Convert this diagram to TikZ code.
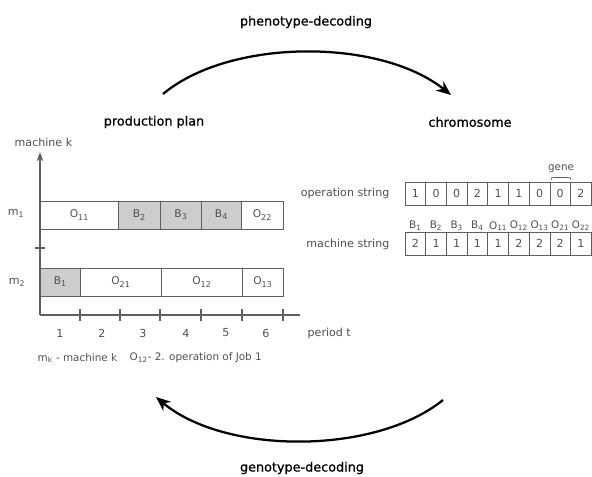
\documentclass[tikz,border=0pt]{standalone}
\usepackage{fontspec}
\setmainfont{DejaVu Sans}
\newfontfamily\headfont{DejaVu Sans}[FakeBold=0.8]
\usetikzlibrary{arrows.meta}
\definecolor{txtgray}{RGB}{80,80,80}
\definecolor{boxgray}{RGB}{205,205,205}
\definecolor{linegray}{RGB}{95,95,95}
\tikzset{
  heading/.style={font=\headfont\fontsize{9.6}{11}\selectfont, text=black},
  lbl/.style={font=\fontsize{8.3}{10}\selectfont, text=txtgray},
  small/.style={font=\fontsize{7.8}{9}\selectfont, text=txtgray},
  job/.style={draw=linegray, line width=0.7pt, minimum height=28*0.75pt, inner sep=0pt, anchor=west, font=\fontsize{8}{9}\selectfont, text=txtgray},
  bit/.style={draw=linegray, line width=0.6pt, minimum width=20.7*0.75pt, minimum height=23*0.75pt, inner sep=0pt, font=\fontsize{8.3}{10}\selectfont, text=txtgray},
  axis/.style={draw=linegray, line width=0.9pt},
  decode/.style={line width=1.7pt, -{Stealth[length=11pt,width=9pt]}},
}
\begin{document}
\begin{tikzpicture}[x=0.75pt,y=0.75pt,yscale=-1,xscale=1]
\useasboundingbox (0,0) rectangle (592,477);

%Titles
\node[heading] (pheno) at (306,22) {phenotype-decoding};
\node[heading] (geno) at (302,468) {genotype-decoding};
\node[heading] (plan) at (154,122) {production plan};
\node[heading] (chrom) at (470,122) {chromosome};

%Curve Lines
\coordinate (ps) at (163,94);
\coordinate (pe) at (451,95);
\draw[decode] (ps) .. controls (230,38) and (380,38) .. (pe);
\coordinate (gs) at (443,400);
\coordinate (ge) at (156,397);
\draw[decode] (gs) .. controls (375,455) and (225,455) .. (ge);

%Axes
\coordinate (orig) at (40,315);
\coordinate (ytop) at (40,152);
\coordinate (xend) at (300,315);
\draw[axis, -{Stealth[length=7pt,width=5pt]}] (orig) -- (ytop);
\draw[axis] (orig) -- (xend);
\draw[axis] (35,248) -- (45,248);
\foreach \tx in {80,120,160,201,242,283}
  \draw[axis] (\tx,309) -- (\tx,321);
\foreach \n/\lx in {1/60,2/102,3/143,4/186,5/226,6/266}
  \node[lbl] (t\n) at (\lx,333) {\n};
\node[lbl, anchor=west] (period) at (303,333) {period t};
\node[lbl, anchor=west] (mk) at (10,142) {machine k};
\node[lbl] (m1) at (16,213) {m\textsubscript{1}};
\node[lbl] (m2) at (17,282) {m\textsubscript{2}};

%Machine 1
\foreach \x/\w/\t/\c in {40/78/O\textsubscript{11}/white, 118/42/B\textsubscript{2}/boxgray, 160/41/B\textsubscript{3}/boxgray, 201/40/B\textsubscript{4}/boxgray, 241/42/O\textsubscript{22}/white}
  \node[job, fill=\c, minimum width=\w*0.75pt] at (\x,215) {\t};
%Machine 2
\foreach \x/\w/\t/\c in {40/40/B\textsubscript{1}/boxgray, 80/81/O\textsubscript{21}/white, 161/81/O\textsubscript{12}/white, 242/41/O\textsubscript{13}/white}
  \node[job, fill=\c, minimum width=\w*0.75pt] at (\x,282) {\t};

%Legend
\node[small, anchor=west] (leg1) at (33,358) {m\textsubscript{k} - machine k};
\node[small, anchor=west] (leg2) at (125,358) {O\textsubscript{12}- 2. operation of Job 1};

%Chromosome
\node[lbl, anchor=east] (opstr) at (394,193) {operation string};
\node[lbl, anchor=east] (mastr) at (394,244) {machine string};
\foreach \v [count=\i] in {1,0,0,2,1,1,0,0,2}
  \node[bit] (op\i) at ({405+20.7*(\i-0.5)},193.5) {\v};
\foreach \v [count=\i] in {2,1,1,1,1,2,2,2,1}
  \node[bit] (ma\i) at ({405+20.7*(\i-0.5)},243.5) {\v};
\foreach \t [count=\i] in {B\textsubscript{1},B\textsubscript{2},B\textsubscript{3},B\textsubscript{4},O\textsubscript{11},O\textsubscript{12},O\textsubscript{13},O\textsubscript{21},O\textsubscript{22}}
  \node[small, inner sep=0pt] (h\i) at ({405+20.7*(\i-0.5)},226) {\t};
\node[small] (gene) at (561,169) {gene};
\draw[linegray, line width=0.5pt] (551,180) .. controls (551.5,177.5) .. (554,177.5) -- (568,177.5) .. controls (570.5,177.5) .. (571,180);

\end{tikzpicture}
\end{document}
